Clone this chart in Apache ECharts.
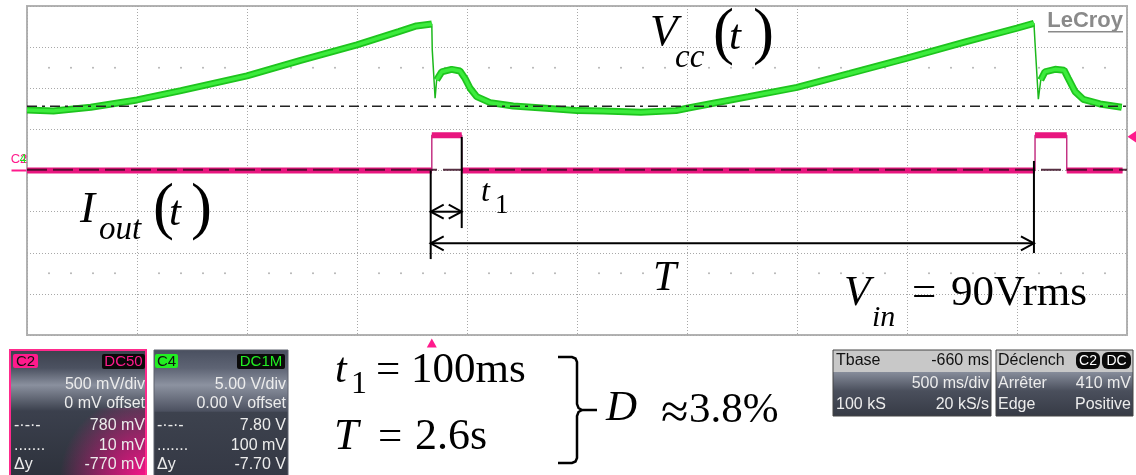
<!DOCTYPE html>
<html>
<head>
<meta charset="utf-8">
<script src="https://cdn.jsdelivr.net/npm/echarts@6/dist/echarts.min.js"></script>
<style>
  html, body { margin: 0; padding: 0; background: #fff; }
  #chart { width: 1136px; height: 475px; }
</style>
</head>
<body>
<div id="chart"></div>
<script>
// screen time in s (500 ms/div, 10 div); C4 in V (5 V/div); C2 in V (500 mV/div)
const vccTime = [0.00, 0.12, 0.29, 0.50, 0.70, 1.00, 1.24, 1.50, 1.69, 1.77, 1.840, 1.842, 1.855, 1.862,
  1.885, 1.930, 1.968, 1.991, 2.014, 2.044, 2.105, 2.21, 2.36, 2.50, 2.62, 2.79, 2.95, 3.00, 3.12, 3.28,
  3.50, 3.74, 4.00, 4.27, 4.50, 4.577, 4.582, 4.597, 4.608, 4.627, 4.673, 4.714, 4.733, 4.764, 4.801,
  4.877, 4.976];
const vccVolts = [7.36, 7.24, 7.69, 8.58, 9.71, 11.5, 13.36, 15.27, 16.89, 17.58, 17.82, 14.7, 8.78, 11.0,
  12.0, 12.3, 12.1, 11.2, 10.0, 8.98, 8.25, 7.85, 7.57, 7.28, 7.24, 7.08, 7.28, 7.57, 8.18, 8.98,
  10.1, 11.8, 13.65, 15.67, 17.3, 17.9, 15.5, 8.66, 11.0, 12.0, 12.3, 12.2, 11.2, 9.59, 8.66,
  8.09, 7.69];

const ioutStart = [1.840, 4.582];
const ioutEnd = [1.976, 4.726];
const ioutHigh = 0.43;
const ioutLow = 0;
const traceEnd = 4.98;

const cursorC4 = 7.8;     // dash-dot cursor
const cursorC2 = 0.01;    // dotted cursor
const trigLevel = 0.41;
const trigTime = 1.84;

// annotation lines in (s, C4 V)
const markTimes = [1.835, 1.976, 4.577];
const markTop = [0, 4.08, 1.16];
const markBottom = [-10.77, -7.0, -10.04];
const t1ArrowV = -5.01;
const periodArrowV = -8.86;

// green trace: full thin line, thick band broken at the steep edges
const vccLine = vccTime.map((t, i) => [t, vccVolts[i]]);
const vccBand = [];
vccLine.forEach((p, i) => {
  if (i > 0) {
    const slope = Math.abs(p[1] - vccLine[i - 1][1]) / (p[0] - vccLine[i - 1][0]);
    if (slope > 150) vccBand.push([p[0], null]);
  }
  vccBand.push(p);
});

// pink trace
const ioutLine = [[0, ioutLow]];
const ioutBand = [[0, ioutLow]];
ioutStart.forEach((s, i) => {
  const e = ioutEnd[i];
  ioutLine.push([s, ioutLow], [s, ioutHigh], [e, ioutHigh], [e, ioutLow]);
  ioutBand.push([s, ioutLow], [s, null], [s, ioutHigh], [e, ioutHigh], [e, null], [e, ioutLow]);
});
ioutLine.push([traceEnd, ioutLow]);
ioutBand.push([traceEnd, ioutLow]);

// minor graticule dots
const minorDots = [];
for (let k = 1; k < 50; k++) {
  if (k % 5 !== 0) minorDots.push([k / 10, 12.5], [k / 10, -12.5]);
}

const annoData = markTimes.map((t, i) => [t, markTop[i], t, markBottom[i], 0]);
annoData.push([markTimes[0], t1ArrowV, markTimes[1], t1ArrowV, 1]);
annoData.push([markTimes[0], periodArrowV, markTimes[2], periodArrowV, 1]);

const SERIF = '"Liberation Serif", "Times New Roman", serif';
const SANS = '"Liberation Sans", Arial, sans-serif';

function txt(x, base, text, size, opt) {
  opt = opt || {};
  return {
    type: 'text', x: x, y: base - 0.34 * size, z: 100,
    style: {
      text: text,
      font: (opt.italic ? 'italic ' : '') + (opt.bold ? 'bold ' : '') + size + 'px ' + (opt.family || SERIF),
      fill: opt.color || '#000',
      align: opt.align || 'left',
      verticalAlign: 'middle'
    }
  };
}
function ptxt(x, y, text, align, color, size) {
  return {
    type: 'text', x: x, y: y, z: 100,
    style: { text: text, font: (size || 16) + 'px ' + SANS, fill: color || '#ececec', align: align || 'right', verticalAlign: 'middle' }
  };
}
function box(x, y, w, h, fill, stroke, lw, r) {
  return {
    type: 'rect', z: 90, shape: { x: x, y: y, width: w, height: h, r: r || 0 },
    style: { fill: fill, stroke: stroke || null, lineWidth: lw || 0 }
  };
}
function vgrad(stops) {
  return { type: 'linear', x: 0, y: 0, x2: 0, y2: 1, colorStops: stops.map(s => ({ offset: s[0], color: s[1] })) };
}
function pline(points, lw) {
  return { type: 'polyline', z: 100, shape: { points: points }, style: { stroke: '#000', lineWidth: lw, fill: null } };
}

const panelTop = vgrad([[0, '#3c414e'], [0.14, '#4c5261'], [0.27, '#8a909e'], [0.47, '#3b404d'], [1, '#2d313b']]);

const graphics = [
  // C2 panel
  box(10, 350, 136, 130, panelTop),
  box(10, 408, 136, 72, { type: 'radial', x: 1, y: 1, r: 1.2, colorStops: [
    { offset: 0, color: 'rgba(255,20,140,1)' }, { offset: 0.45, color: 'rgba(225,20,128,0.65)' }, { offset: 1, color: 'rgba(220,20,125,0)' }] }),
  box(10, 350, 136, 130, null, '#ff2a8c', 2),
  box(13, 354, 25, 14, '#ff1a8c', null, 0, 2),
  ptxt(25.5, 361.5, 'C2', 'center', '#111', 15),
  box(102, 354, 43, 15, '#0a0a0a', null, 0, 2),
  ptxt(123.5, 361.5, 'DC50', 'center', '#ff1a8c', 15),
  ptxt(145, 385, '500 mV/div'),
  ptxt(145, 404, '0 mV offset'),
  ptxt(14, 426, '-·-·-', 'left'),
  ptxt(145, 426, '780 mV'),
  ptxt(14, 446, '.......', 'left'),
  ptxt(145, 446, '10 mV'),
  ptxt(14, 465, 'Δy', 'left'),
  ptxt(145, 465, '-770 mV'),

  // C4 panel
  box(154, 350, 134, 130, vgrad([[0, '#4a5060'], [0.14, '#5e6474'], [0.27, '#8c92a0'], [0.47, '#4c5160'], [0.48, '#3d424e'], [1, '#343844']])),
  box(154, 350, 134, 130, null, '#5c616c', 1),
  box(155, 354, 23, 14, '#22ee22', null, 0, 2),
  ptxt(166.5, 361.5, 'C4', 'center', '#111', 15),
  box(237, 354, 48, 15, '#0a0a0a', null, 0, 2),
  ptxt(261, 361.5, 'DC1M', 'center', '#22ee22', 15),
  ptxt(286, 385, '5.00 V/div'),
  ptxt(286, 404, '0.00 V offset'),
  ptxt(157, 426, '-·-·-', 'left'),
  ptxt(286, 426, '7.80 V'),
  ptxt(157, 446, '.......', 'left'),
  ptxt(286, 446, '100 mV'),
  ptxt(157, 465, 'Δy', 'left'),
  ptxt(286, 465, '-7.70 V'),

  // timebase panel
  box(833, 350, 158, 66, vgrad([[0, '#c8c8c8'], [0.33, '#c8c8c8'], [0.34, '#868c9a'], [0.62, '#4a4f5c'], [1, '#363a45']]), '#444', 1),
  ptxt(836, 361, 'Tbase', 'left', '#111'),
  ptxt(989, 361, '-660 ms', 'right', '#111'),
  ptxt(989, 384, '500 ms/div'),
  ptxt(836, 405, '100 kS', 'left'),
  ptxt(989, 405, '20 kS/s'),

  // trigger panel
  box(996, 350, 137, 66, vgrad([[0, '#c8c8c8'], [0.33, '#c8c8c8'], [0.34, '#868c9a'], [0.62, '#4a4f5c'], [1, '#363a45']]), '#444', 1),
  ptxt(998, 361, 'Déclench', 'left', '#111'),
  box(1076, 352, 24, 17, '#0a0a0a', null, 0, 6),
  ptxt(1088, 361, 'C2', 'center', '#fff', 14),
  box(1102, 352, 29, 17, '#0a0a0a', null, 0, 6),
  ptxt(1116.5, 361, 'DC', 'center', '#fff', 14),
  ptxt(998, 384, 'Arrêter', 'left'),
  ptxt(1131, 384, '410 mV'),
  ptxt(998, 405, 'Edge', 'left'),
  ptxt(1131, 405, 'Positive'),

  // logo
  txt(1123, 28, 'LeCroy', 22, { bold: true, family: SANS, color: '#8a8a8a', align: 'right' }),
  { type: 'rect', z: 100, shape: { x: 1048, y: 31, width: 75, height: 1.5 }, style: { fill: '#8a8a8a' } },

  // Vcc(t)
  txt(650, 48, 'V', 45, { italic: true }),
  txt(675, 70, 'cc', 33, { italic: true }),
  txt(713, 57, '(', 63),
  txt(729, 52, 't', 43, { italic: true }),
  txt(753, 57, ')', 63),

  // Iout(t)
  txt(80, 225, 'I', 45, { italic: true }),
  txt(99, 242, 'out', 33, { italic: true }),
  txt(153, 232, '(', 63),
  txt(169, 228, 't', 43, { italic: true }),
  txt(191, 232, ')', 63),

  // t1, T
  txt(481, 203, 't', 32, { italic: true }),
  txt(495, 215, '1', 27),
  txt(653, 293, 'T', 42, { italic: true }),

  // Vin = 90Vrms
  txt(844, 308, 'V', 43, { italic: true }),
  txt(872, 328, 'in', 30, { italic: true }),
  txt(912, 308, '=', 43),
  txt(951, 308, '90Vrms', 43),

  // bottom formulas
  txt(335, 385, 't', 42, { italic: true }),
  txt(351, 395, '1', 32),
  txt(376, 385, '=', 43),
  txt(411, 385, '100ms', 43),
  txt(334, 452, 'T', 44, { italic: true }),
  txt(378, 452, '=', 43),
  txt(415, 452, '2.6s', 44),
  pline([[558, 357], [572, 357], [575.5, 358.5], [577, 362], [577, 404], [578.5, 408], [582, 410], [597, 410]], 2.5),
  pline([[582, 410], [578.5, 412], [577, 416], [577, 458], [575.5, 461.5], [572, 463], [558, 463]], 2.5),
  txt(606, 423, 'D', 43, { italic: true }),
  txt(661, 432, '≈', 50),
  txt(689, 425, '3.8%', 43)
];

const chart = echarts.init(document.getElementById('chart'), null, { renderer: 'canvas' });

const option = {
  animation: false,
  backgroundColor: '#fff',
  grid: {
    left: 27, right: 9, top: 6, bottom: 140,
    show: true, borderColor: '#b2b2b2', borderWidth: 2, backgroundColor: '#fff'
  },
  xAxis: {
    type: 'value', min: 0, max: 5, interval: 0.5,
    axisLine: { show: false }, axisTick: { show: false }, axisLabel: { show: false },
    splitLine: { lineStyle: { color: '#a8a8a8', width: 1, type: [1, 2] } }
  },
  yAxis: [
    {
      type: 'value', min: -20, max: 20, interval: 5,
      axisLine: { show: false }, axisTick: { show: false }, axisLabel: { show: false },
      splitLine: { lineStyle: { color: '#a8a8a8', width: 1, type: [1, 2] } }
    },
    {
      type: 'value', min: -2, max: 2, interval: 0.5, show: false, splitLine: { show: false }
    }
  ],
  series: [
    {
      type: 'scatter', data: minorDots, symbolSize: 2, silent: true,
      itemStyle: { color: '#a0a0a0' }
    },
    {
      type: 'line', data: vccLine, showSymbol: false, silent: true,
      lineStyle: { color: '#1cb81c', width: 1.5 }
    },
    {
      type: 'line', data: vccBand, showSymbol: false, silent: true,
      lineStyle: { color: '#1ec41e', width: 7 }
    },
    {
      type: 'line', data: vccBand, showSymbol: false, silent: true,
      lineStyle: { color: '#3cec3c', width: 3.5 }
    },
    {
      type: 'line', yAxisIndex: 1, data: ioutLine, showSymbol: false, silent: true,
      lineStyle: { color: '#c43384', width: 1.5 }
    },
    {
      type: 'line', yAxisIndex: 1, data: ioutBand, showSymbol: false, silent: true,
      lineStyle: { color: '#e8167f', width: 6 },
      markPoint: {
        silent: true,
        data: [
          { coord: [5, trigLevel], symbol: 'triangle', symbolRotate: 90, symbolSize: [12, 9], symbolOffset: [5, 0],
            itemStyle: { color: '#ff1a8c' }, label: { show: false } },
          { coord: [trigTime, -2], symbol: 'triangle', symbolSize: [10, 9], symbolOffset: [0, 8],
            itemStyle: { color: '#ff1a8c' }, label: { show: false } },
          { coord: [0, ioutLow], symbol: 'rect', symbolSize: [15, 2], symbolOffset: [-8, 0],
            itemStyle: { color: '#ff1a8c' },
            label: { show: true, position: 'top', distance: 4, formatter: 'C2', color: '#ff1a8c', fontSize: 13, fontFamily: SANS } },
          { coord: [0, ioutLow], symbol: 'rect', symbolSize: 0, symbolOffset: [-8, 0],
            label: { show: true, position: 'top', distance: 5, offset: [4, 0], formatter: '4', color: '#22dd22', fontSize: 12, fontFamily: SANS } }
        ]
      }
    },
    {
      type: 'line', data: [[0, cursorC4], [5, cursorC4]], showSymbol: false, silent: true, z: 5,
      lineStyle: { color: '#222', width: 1.5, type: [10, 5, 3, 5] }
    },
    {
      type: 'line', yAxisIndex: 1, data: [[0, cursorC2], [5, cursorC2]], showSymbol: false, silent: true, z: 5,
      lineStyle: { color: '#3a0c22', width: 2, type: [20, 6], opacity: 0.85 }
    },
    {
      type: 'custom', data: annoData, silent: true, z: 6, clip: false,
      renderItem: function (params, api) {
        const p0 = api.coord([api.value(0), api.value(1)]);
        const p1 = api.coord([api.value(2), api.value(3)]);
        const children = [{
          type: 'line', shape: { x1: p0[0], y1: p0[1], x2: p1[0], y2: p1[1] },
          style: { stroke: '#000', lineWidth: 2 }
        }];
        if (api.value(4)) {
          const dx = p1[0] - p0[0], dy = p1[1] - p0[1], len = Math.hypot(dx, dy);
          const ux = dx / len, uy = dy / len, nx = -uy, ny = ux;
          [[p0, 1], [p1, -1]].forEach(function (h) {
            const p = h[0], s = h[1];
            children.push({
              type: 'polyline',
              shape: { points: [
                [p[0] + s * ux * 13 + nx * 7, p[1] + s * uy * 13 + ny * 7],
                [p[0], p[1]],
                [p[0] + s * ux * 13 - nx * 7, p[1] + s * uy * 13 - ny * 7]
              ] },
              style: { stroke: '#000', lineWidth: 2, fill: null }
            });
          });
        }
        return { type: 'group', children: children };
      }
    }
  ],
  graphic: graphics
};

chart.setOption(option);
</script>
</body>
</html>
